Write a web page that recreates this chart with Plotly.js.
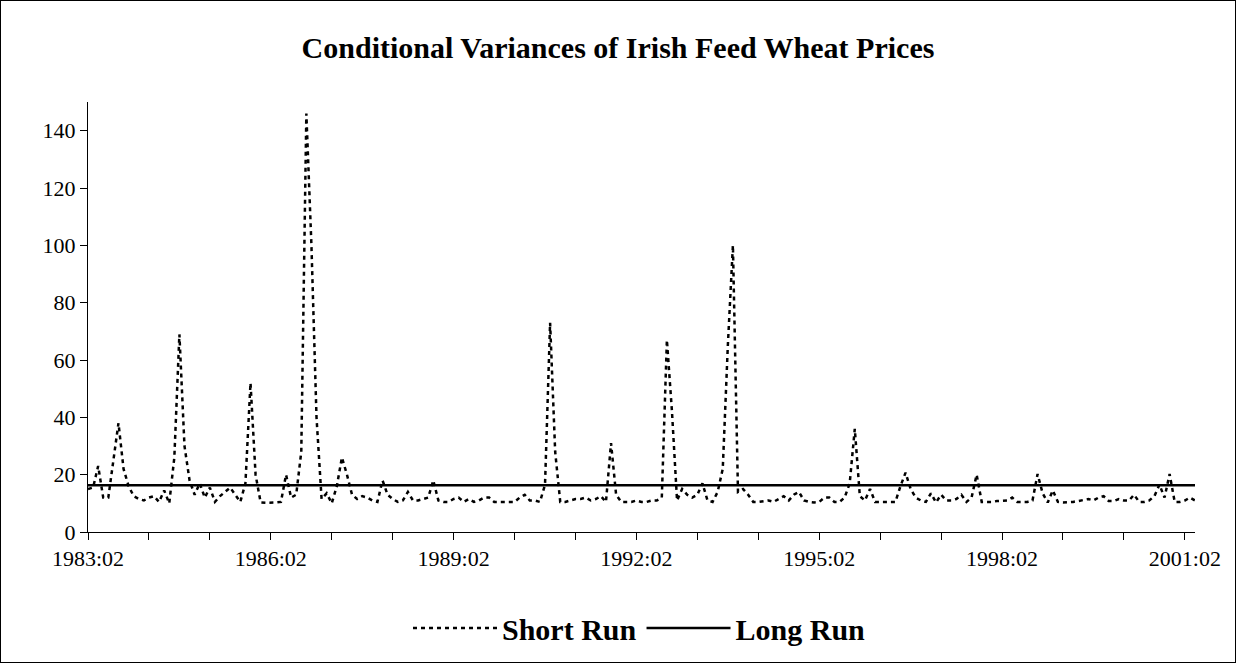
<!DOCTYPE html>
<html>
<head>
<meta charset="utf-8">
<script src="https://cdn.plot.ly/plotly-3.0.1.min.js"></script>
<style>
  html, body { margin: 0; padding: 0; background: #fff; }
  #frame { width: 1236px; height: 663px; box-sizing: border-box; border: 1px solid #000; background: #fff; }
  #chart { width: 1234px; height: 661px; }
</style>
</head>
<body>
<div id="frame"><div id="chart"></div></div>
<script>
// ---- Data ----
const startYear = 1983, startMonth = 2, nMonths = 219; // 1983:02 .. 2001:04
const months = [];
for (let k = 0; k < nMonths; k++) {
  const m = startMonth - 1 + k;
  const y = startYear + Math.floor(m / 12);
  const mm = (m % 12) + 1;
  months.push(y + ":" + (mm < 10 ? "0" + mm : "" + mm));
}

const shortRun = [
  15, 15.5, 23, 12, 12, 26, 38, 22, 16, 12.5,
  11.5, 11, 12, 12.5, 10.5, 14.5, 10, 26, 69, 30,
  18, 13, 17, 12, 15.5, 10.5, 12.5, 14, 15.5, 13,
  10.5, 17, 52, 20, 10.3, 10.2, 10.2, 10.3, 10.5, 20,
  12, 13, 28, 146, 100, 40, 11.5, 13.5, 10, 16,
  26, 20, 13, 11.5, 12.5, 12, 11, 10.5, 18, 13,
  11.5, 10.5, 11, 14, 11, 11, 11.5, 12, 18, 11,
  10.5, 10.5, 11.5, 12, 10.5, 11.5, 10.5, 11, 12, 12,
  10.5, 10.5, 10.5, 10.5, 10.5, 12, 13, 11, 11, 10.5,
  16.5, 73, 28, 10.5, 10.5, 11, 11.5, 11.5, 12, 11,
  11.5, 12.5, 10.5, 31, 13, 10.5, 10.5, 10.5, 11, 10.5,
  10.5, 11, 11, 12, 67, 42, 11, 15, 13, 12,
  13, 17, 11, 10.5, 14, 22, 65, 100, 14, 15,
  13, 10.5, 10.5, 10.8, 11, 10.5, 11.5, 12.5, 11, 13,
  14, 11, 10.5, 10.3, 10.5, 12, 12, 10.5, 10.5, 12,
  17, 36, 12.5, 11, 15, 10.5, 10.5, 10.5, 10.5, 10.5,
  16, 20.7, 15, 12, 11, 10.5, 13.5, 10.3, 13, 11,
  11, 11.5, 13, 10.5, 12, 20, 10.5, 10.5, 10.5, 10.8,
  11, 11, 12, 10.5, 10.5, 10.5, 11, 20.2, 13.5, 10.3,
  14.5, 10.5, 10.3, 10.3, 10.5, 10.8, 11.2, 11.5, 11, 12,
  12.5, 10.8, 10.8, 11.5, 11, 11, 13, 10.5, 10.5, 11,
  12.5, 16.5, 12, 20.2, 10.5, 10.5, 11, 12, 11
];
const longRunLevel = 16.3;

const xTickMonths = ["1983:02","1984:02","1985:02","1986:02","1987:02","1988:02","1989:02",
  "1990:02","1991:02","1992:02","1993:02","1994:02","1995:02","1996:02","1997:02",
  "1998:02","1999:02","2000:02","2001:02"];
const xTickLabels = ["1983:02","","","1986:02","","","1989:02","","","1992:02","","",
  "1995:02","","","1998:02","","","2001:02"];
const yTicks = [0, 20, 40, 60, 80, 100, 120, 140];

// ---- Chart ----
const serif = "Liberation Serif, Times New Roman, serif";
const traces = [
  { x: months, y: shortRun, type: "scatter", mode: "lines", name: "Short Run",
    line: { color: "#000", width: 2.5, dash: "4px,4px" } },
  { x: months, y: months.map(() => longRunLevel), type: "scatter", mode: "lines", name: "Long Run",
    line: { color: "#000", width: 2.5 } }
];

const layout = {
  width: 1234, height: 661,
  margin: { l: 87, r: 40, t: 101, b: 130 },
  paper_bgcolor: "#fff", plot_bgcolor: "#fff",
  font: { family: serif, color: "#000", size: 22 },
  title: { text: "<b>Conditional Variances of Irish Feed Wheat Prices</b>",
    font: { family: serif, size: 30, color: "#000" },
    x: 0.5, xref: "container", xanchor: "center",
    y: 1 - 46 / 661, yref: "container", yanchor: "middle" },
  xaxis: {
    type: "category", range: [0, nMonths - 1],
    tickmode: "array", tickvals: xTickMonths, ticktext: xTickLabels,
    ticks: "outside", ticklen: 7, tickwidth: 1, tickcolor: "#000",
    showline: true, linecolor: "#000", linewidth: 1,
    showgrid: false, zeroline: false, tickangle: 0,
    tickfont: { family: serif, size: 22, color: "#000" }
  },
  yaxis: {
    range: [0, 150], tickmode: "array", tickvals: yTicks,
    ticks: "outside", ticklen: 7, tickwidth: 1, tickcolor: "#000",
    showline: true, linecolor: "#000", linewidth: 1,
    showgrid: false, zeroline: false,
    tickfont: { family: serif, size: 22, color: "#000" }
  },
  showlegend: true,
  legend: {
    orientation: "h", x: 638.5 / 1234, xanchor: "center", xref: "container",
    y: 1 - 627 / 661, yanchor: "middle", yref: "container",
    itemwidth: 84,
    font: { family: serif, size: 30, color: "#000", weight: "bold" },
    bgcolor: "rgba(0,0,0,0)"
  }
};

Plotly.newPlot("chart", traces, layout, { displayModeBar: false, staticPlot: true });
</script>
</body>
</html>
